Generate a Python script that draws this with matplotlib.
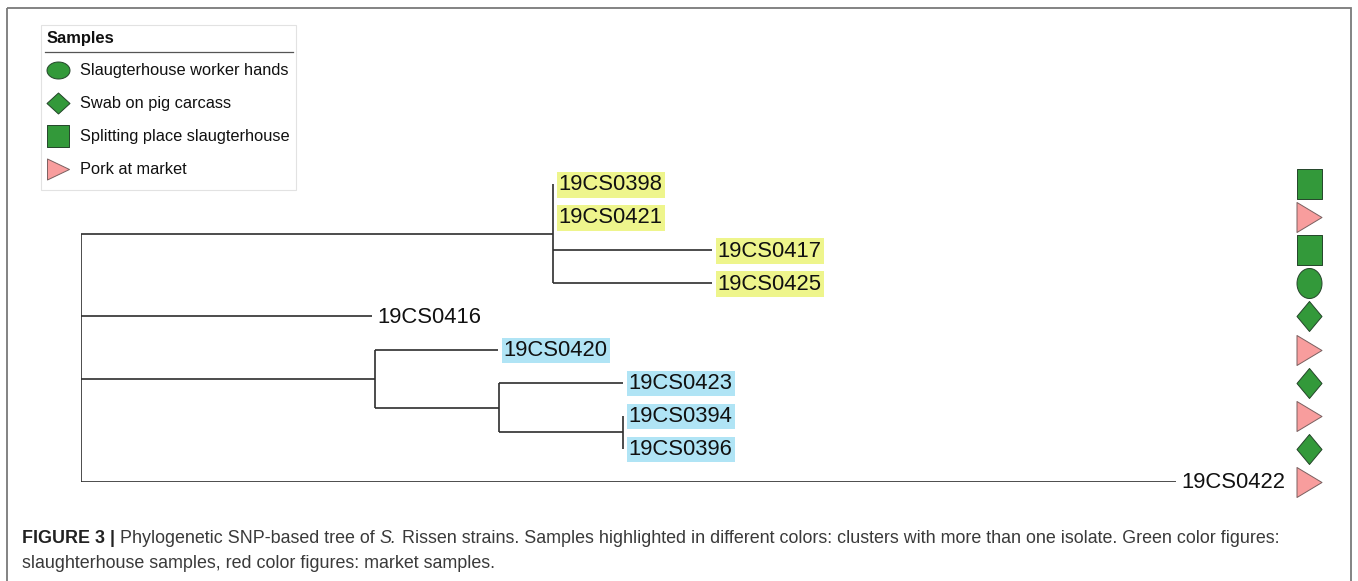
import matplotlib
matplotlib.use("Agg")
import matplotlib.pyplot as plt
import matplotlib.transforms as mtransforms
from matplotlib.path import Path
from matplotlib.patches import Rectangle
import numpy as np

plt.rcParams['font.family'] = ['Liberation Sans', 'DejaVu Sans']

# tree: (name, branch length, children)
tree = ('root', 0.0, [
    ('A', 47.2, [('19CS0398', 0.0, []), ('19CS0421', 0.0, []),
                 ('19CS0417', 15.9, []), ('19CS0425', 15.9, [])]),
    ('19CS0416', 29.1, []),
    ('B', 29.4, [('19CS0420', 12.3, []),
                 ('C', 12.4, [('19CS0423', 12.4, []),
                              ('D', 12.4, [('19CS0394', 0.0, []), ('19CS0396', 0.0, [])])])]),
    ('19CS0422', 109.5, []),
])

leaves = ['19CS0398', '19CS0421', '19CS0417', '19CS0425', '19CS0416',
          '19CS0420', '19CS0423', '19CS0394', '19CS0396', '19CS0422']
clusters = ['yellow', 'yellow', 'yellow', 'yellow', None,
            'blue', 'blue', 'blue', 'blue', None]
sources = ['square', 'triangle', 'square', 'circle', 'diamond',
           'triangle', 'diamond', 'triangle', 'diamond', 'triangle']

legend_keys = ['circle', 'diamond', 'square', 'triangle']
legend_labels = ['Slaugterhouse worker hands', 'Swab on pig carcass',
                 'Splitting place slaugterhouse', 'Pork at market']

hl = {'yellow': '#eef58c', 'blue': '#b0e4f5'}
fill = {'circle': '#33993a', 'diamond': '#33993a', 'square': '#33993a', 'triangle': '#f89d9d'}
edge = {'circle': '#24452a', 'diamond': '#24452a', 'square': '#24452a', 'triangle': '#7a6060'}


def shape(kind, w, h):
    w, h = w / 2, h / 2
    if kind == 'square':
        v = [(-w, -h), (w, -h), (w, h), (-w, h), (-w, -h)]
    elif kind == 'diamond':
        v = [(0, h), (w, 0), (0, -h), (-w, 0), (0, h)]
    elif kind == 'triangle':
        v = [(-w, h), (w, 0), (-w, -h), (-w, h)]
    else:
        t = np.linspace(0, 2 * np.pi, 60)
        v = list(zip(w * np.cos(t), h * np.sin(t)))
    return Path(v, closed=True)


W, H = 1358, 581
fig = plt.figure(figsize=(W / 100, H / 100), dpi=100)

# overlay in pixel coords for frame, legend and caption
bg = fig.add_axes([0, 0, 1, 1])
bg.set_xlim(0, W)
bg.set_ylim(H, 0)
bg.axis('off')
bg.add_patch(Rectangle((7, 8), 1344, 600, fill=False, ec='#7a7a7a', lw=1.3, clip_on=False))

# tree axes: x = distance from root, y = leaf order
ax = fig.add_axes([81 / W, 1 - 482 / H, (1176 - 81) / W, (482 - 184) / H])
ax.set_xlim(0, 109.5)
ax.set_ylim(len(leaves) - 1, 0)
ax.axis('off')

lc = '#2e2e2e'
pos = {}


def draw(node, x0):
    name, bl, kids = node
    x = x0 + bl
    if not kids:
        y = leaves.index(name)
    else:
        ys = [draw(k, x) for k in kids]
        y = np.mean(ys)
        ax.plot([x, x], [min(ys), max(ys)], color=lc, lw=1.2, solid_capstyle='butt')
    if bl > 0:
        ax.plot([x0, x], [y, y], color=lc, lw=1.2, solid_capstyle='butt')
    pos[name] = (x, y)
    return y


draw(tree, 0.0)

for name, cl in zip(leaves, clusters):
    x, y = pos[name]
    bb = dict(boxstyle='square,pad=0.1', fc=hl[cl], ec='none') if cl else None
    ax.annotate(name, (x, y), xytext=(4.2, -0.6), textcoords='offset points',
                ha='left', va='center', fontsize=15.8, color='#111111', bbox=bb)

mk = mtransforms.blended_transform_factory(fig.transFigure, ax.transData)
for i, s in enumerate(sources):
    ax.plot([1309 / W], [i], marker=shape(s, 25, 30), ms=30 * 0.72, mfc=fill[s],
            mec=edge[s], mew=0.7, transform=mk, clip_on=False, ls='none')

# legend
bg.add_patch(Rectangle((41, 25), 255, 165, fill=False, ec='#e2e2e2', lw=0.8))
bg.text(47, 38, 'Samples', fontsize=11.9, fontweight='bold', va='center', ha='left', color='#111111')
bg.plot([45, 293], [52, 52], color='#555555', lw=0.9)
lsize = {'circle': (23, 17), 'diamond': (23, 21), 'square': (22, 22), 'triangle': (22, 21)}
for i, (k, lab) in enumerate(zip(legend_keys, legend_labels)):
    y = 70 + i * 33
    w, h = lsize[k]
    bg.plot([58], [y], marker=shape(k, w, h), ms=max(w, h) * 0.72, mfc=fill[k],
            mec=edge[k], mew=0.7, ls='none')
    bg.text(80, y + 0.5, lab, fontsize=11.8, va='center', ha='left', color='#111111')

# caption
cap1 = [('FIGURE 3 | ', dict(fontweight='bold', color='#222222')),
        ('Phylogenetic SNP-based tree of ', {}),
        ('S.', dict(style='italic')),
        (' Rissen strains. Samples highlighted in different colors: clusters with more than one isolate. Green color figures:', {})]
cap2 = 'slaughterhouse samples, red color figures: market samples.'

fig.canvas.draw()
r = fig.canvas.get_renderer()
x = 22
for txt, kw in cap1:
    opts = dict(fontsize=12.9, va='baseline', ha='left', color='#3a3a3a')
    opts.update(kw)
    t = bg.text(x, 543, txt, **opts)
    x += t.get_window_extent(r).width
bg.text(22, 568, cap2, fontsize=12.9, va='baseline', ha='left', color='#3a3a3a')

fig.savefig('out.png', dpi=100)
